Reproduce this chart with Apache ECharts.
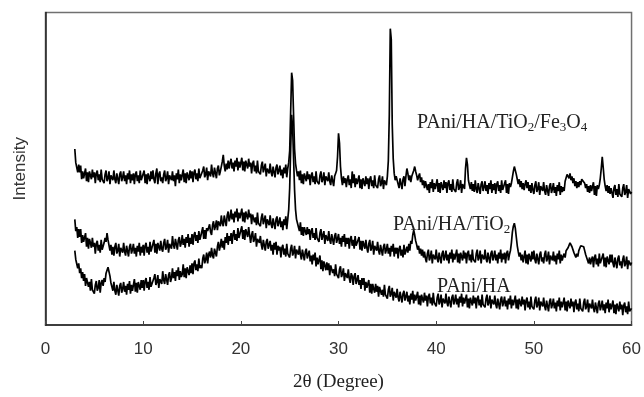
<!DOCTYPE html>
<html>
<head>
<meta charset="utf-8">
<script src="https://cdn.jsdelivr.net/npm/echarts@6/dist/echarts.min.js"></script>
<style>
  html, body { margin: 0; padding: 0; background: #fff; }
  #main { width: 644px; height: 397px; }
</style>
</head>
<body>
<div id="main"></div>
<script>
// 2θ grid: 3.0 .. 60.0 in 0.1 degree steps (571 points), one line per degree below
var thetaStart = 3.0, thetaStep = 0.1;

// intensity (arbitrary units, curves offset as in the figure)
var fe3o4 = [
  180,166,168,156,164,156,163,149,157,150,
  150,160,147,156,146,157,153,149,159,151,
  156,145,155,158,148,154,146,159,149,151,
  145,154,158,147,150,157,144,153,155,148,
  158,149,145,155,153,144,154,157,147,151,
  157,147,153,144,155,149,158,145,154,148,
  155,144,154,157,147,153,145,158,148,150,
  148,158,145,154,144,155,151,147,157,149,
  158,149,145,155,160,144,154,157,147,151,
  145,154,158,147,150,157,144,153,155,148,
  157,147,153,142,155,149,159,145,154,148,
  149,159,146,155,145,156,152,148,158,150,
  157,146,156,159,149,155,147,160,150,152,
  149,158,162,151,154,161,148,157,159,152,
  164,155,151,161,159,150,160,163,153,157,
  162,167,174,163,157,165,159,168,160,166,
  170,160,166,157,168,162,171,158,167,161,
  161,171,158,167,157,168,164,160,170,162,
  166,155,165,168,157,163,155,168,157,159,
  154,163,167,156,158,165,152,160,162,155,
  165,156,152,162,160,151,161,164,154,158,
  163,153,159,150,161,155,164,151,160,166,
  178,218,258,250,214,180,165,158,152,157,
  148,158,145,154,144,155,151,147,157,149,
  154,143,153,156,146,152,144,157,147,149,
  144,153,157,146,149,156,143,152,154,147,
  156,147,143,153,151,142,152,155,158,172,
  196,186,162,150,143,152,145,150,141,149,
  153,143,149,140,157,145,154,141,150,144,
  143,153,140,149,139,150,146,142,152,144,
  150,139,149,152,142,148,140,153,143,145,
  140,149,153,142,145,152,139,148,150,143,
  152,168,215,303,292,205,170,155,148,152,
  153,144,140,150,148,139,149,152,142,152,
  160,155,148,153,146,152,154,158,162,157,
  153,148,152,155,146,151,143,148,140,147,
  148,138,144,135,146,140,149,136,145,139,
  139,149,136,145,135,146,142,138,148,140,
  146,135,145,148,138,144,136,149,139,141,
  136,145,149,138,141,148,135,144,146,139,
  160,171,164,148,143,139,146,137,144,136,
  148,139,135,145,143,134,144,147,137,141,
  147,137,143,134,145,139,148,135,144,138,
  145,134,144,147,137,143,135,148,138,140,
  138,148,135,144,134,145,141,145,151,157,
  162,160,154,149,144,149,141,147,139,145,
  138,144,148,140,146,137,143,135,145,138,
  134,143,147,136,139,146,133,142,144,137,
  146,137,133,143,141,132,142,145,135,139,
  145,135,141,132,143,137,146,133,142,136,
  141,137,147,149,154,156,150,155,148,152,
  145,150,142,147,140,146,141,147,143,149,
  151,147,145,140,144,136,142,135,143,137,
  136,146,133,142,132,143,139,143,150,160,
  172,161,149,142,137,143,135,142,134,140,
  141,130,140,143,133,139,131,144,134,136,
  131,140,144,133,136,143,130,139,141,134,
  136
];

var tio2 = [
  108,96,100,89,98,90,98,84,92,85,
  84,94,80,89,78,88,84,79,89,80,
  84,73,83,86,76,82,74,87,77,79,
  84,89,85,94,87,86,76,82,72,80,
  71,80,84,73,76,83,70,79,81,74,
  84,75,71,81,79,70,80,83,73,77,
  83,73,79,70,81,75,84,71,80,74,
  82,71,81,84,74,80,72,85,75,77,
  77,87,74,83,73,84,80,76,86,78,
  75,84,88,77,80,87,74,83,85,78,
  91,82,78,88,86,77,87,90,80,84,
  92,82,88,79,90,84,93,80,89,83,
  93,82,92,95,86,92,84,96,87,91,
  90,100,88,97,88,99,96,94,103,95,
  92,102,106,97,101,107,97,106,108,101,
  112,104,101,112,110,101,112,116,106,110,
  118,108,114,105,116,110,119,106,115,109,
  109,119,106,115,105,116,112,108,118,110,
  114,103,113,115,105,110,102,115,104,106,
  101,110,114,103,105,112,99,108,110,102,
  112,103,99,109,107,98,108,111,101,105,
  110,100,106,97,108,102,111,98,108,118,
  140,180,215,202,170,138,118,108,104,100,
  96,105,92,100,91,100,96,92,100,93,
  98,87,96,99,89,94,87,99,89,91,
  85,94,98,87,89,96,83,92,93,86,
  96,87,83,93,91,82,91,94,84,88,
  93,83,89,80,91,85,93,80,89,83,
  89,78,88,91,81,87,78,91,81,83,
  80,90,77,86,76,86,82,78,87,79,
  74,83,87,76,79,86,72,81,83,76,
  85,76,72,82,80,71,80,83,73,77,
  83,73,79,70,81,75,83,70,79,73,
  79,68,78,81,71,77,69,82,72,74,
  80,74,83,76,86,83,92,97,92,86,
  82,77,81,73,78,71,77,69,75,68,
  64,73,77,66,69,76,63,72,74,67,
  77,68,64,74,72,63,73,76,66,70,
  76,66,72,63,74,68,77,64,73,67,
  67,77,64,73,63,74,70,66,76,68,
  74,63,73,76,66,72,64,77,67,69,
  64,73,77,66,69,76,63,72,74,67,
  77,68,64,74,72,63,73,76,66,70,
  76,66,72,63,74,68,77,64,73,67,
  74,63,73,76,66,72,76,84,95,101,
  104,99,90,81,75,70,74,66,72,64,
  66,76,63,72,62,73,69,65,75,67,
  76,67,63,73,71,62,72,75,65,69,
  63,72,76,65,68,75,62,71,73,66,
  75,65,71,62,73,67,76,63,72,66,
  70,73,69,76,74,79,79,84,82,80,
  79,74,74,69,73,70,76,78,81,83,
  83,80,76,72,69,70,63,69,62,67,
  70,59,69,72,62,68,60,73,63,65,
  63,73,60,69,59,70,66,62,72,64,
  72,63,59,69,67,58,68,71,61,65,
  58,67,71,60,63,70,57,66,68,61,
  64
];

var ha = [
  76,67,68,58,63,53,58,48,54,45,
  52,40,48,50,39,44,35,47,36,38,
  32,41,45,35,38,46,33,43,46,40,
  48,44,53,52,59,60,50,43,43,35,
  44,35,31,41,39,30,40,43,33,37,
  44,34,40,31,42,36,45,32,41,35,
  37,47,34,43,33,44,40,36,46,38,
  46,35,45,48,38,44,36,49,39,41,
  39,48,52,41,44,51,38,47,49,42,
  55,46,42,52,50,41,51,54,44,48,
  58,48,54,45,56,50,59,46,55,49,
  52,62,49,58,48,59,55,51,61,53,
  63,52,63,66,56,62,55,68,58,61,
  58,68,72,63,67,74,63,72,75,69,
  79,71,68,78,77,70,80,85,76,81,
  88,79,86,77,90,84,94,82,91,86,
  94,83,93,97,87,93,86,99,89,91,
  91,101,88,97,87,98,94,90,100,92,
  84,92,96,85,88,94,80,88,90,84,
  91,82,77,87,85,76,85,88,78,82,
  86,76,82,72,84,77,85,72,81,76,
  80,69,79,82,72,78,70,83,73,75,
  69,78,82,71,74,81,68,77,79,72,
  81,72,67,77,75,66,75,78,68,72,
  76,65,71,62,72,66,74,60,69,62,
  61,71,57,66,55,65,61,56,64,56,
  63,51,61,63,53,57,50,62,52,54,
  48,57,60,49,52,58,45,53,55,48,
  57,48,43,53,50,41,50,53,42,46,
  51,41,46,37,48,41,48,35,44,38,
  37,46,33,42,32,42,37,33,42,34,
  40,29,39,41,31,36,29,41,31,33,
  27,36,40,29,32,38,25,34,36,28,
  37,28,24,34,32,23,32,35,25,29,
  34,24,30,21,32,26,35,22,31,25,
  24,34,21,30,20,31,27,23,33,25,
  30,19,29,32,22,28,20,33,23,25,
  19,28,32,21,24,31,18,27,29,22,
  32,23,19,29,27,18,28,31,21,25,
  31,21,27,18,29,23,32,19,28,22,
  21,31,18,27,17,28,24,20,30,22,
  28,17,27,30,20,26,18,31,21,23,
  18,27,31,20,23,30,17,26,28,21,
  30,21,17,27,25,16,26,29,19,23,
  29,19,25,16,27,21,30,17,26,20,
  20,30,17,26,16,27,23,19,29,21,
  26,15,25,28,18,24,16,29,19,21,
  16,25,29,18,21,28,15,24,26,19,
  28,19,15,25,23,14,24,27,17,21,
  27,17,23,14,25,19,28,15,24,18,
  18,28,15,24,14,25,21,17,27,19,
  24,13,23,26,16,22,14,27,17,19,
  14,23,27,16,19,26,13,22,24,17,
  26,17,13,23,21,12,22,25,15,19,
  25,15,21,12,23,17,26,13,22,16,
  15,25,12,21,11,22,18,14,24,16,
  21,10,20,23,13,19,11,24,14,16,
  17
];

var xTicks = [0, 10, 20, 30, 40, 50, 60];

function pairs(vals) {
  return vals.map(function (v, i) {
    return [+(thetaStart + i * thetaStep).toFixed(1), v];
  });
}

var chart = echarts.init(document.getElementById('main'));

var lineStyle = { color: '#000', width: 1.7 };
var serif = '"Liberation Serif", "Times New Roman", serif';
var sans = '"Liberation Sans", Arial, sans-serif';
var labelRich = {
  a: { fontFamily: serif, fontSize: 20, lineHeight: 22, fill: '#222' },
  s: { fontFamily: serif, fontSize: 13, lineHeight: 13, verticalAlign: 'bottom', fill: '#222' }
};

chart.setOption({
  animation: false,
  grid: {
    left: 45.5, right: 10.5, top: 12.5, bottom: 65,
    show: true, borderColor: '#707070', borderWidth: 1.5
  },
  xAxis: {
    type: 'value',
    min: xTicks[0], max: xTicks[xTicks.length - 1], interval: 10,
    name: '2θ (Degree)',
    nameLocation: 'middle',
    nameGap: 48,
    nameTextStyle: { fontFamily: serif, fontSize: 19, color: '#222' },
    axisLine: { lineStyle: { color: '#222', width: 1.5 } },
    axisTick: { inside: true, length: 4, lineStyle: { color: '#444' } },
    axisLabel: { fontFamily: sans, fontSize: 17, color: '#333', margin: 16 },
    splitLine: { show: false }
  },
  yAxis: {
    type: 'value',
    min: 0, max: 319.5,
    name: 'Intensity',
    nameLocation: 'middle',
    nameGap: 17,
    nameTextStyle: { fontFamily: sans, fontSize: 17, color: '#333' },
    axisLine: { show: true, lineStyle: { color: '#222', width: 1.5 } },
    axisTick: { show: false },
    axisLabel: { show: false },
    splitLine: { show: false }
  },
  series: [
    { name: 'PAni/HA/TiO2/Fe3O4', type: 'line', data: pairs(fe3o4), symbol: 'none', lineStyle: lineStyle },
    { name: 'PAni/HA/TiO2', type: 'line', data: pairs(tio2), symbol: 'none', lineStyle: lineStyle },
    { name: 'PAni/HA', type: 'line', data: pairs(ha), symbol: 'none', lineStyle: lineStyle }
  ],
  graphic: [
    {
      type: 'text', left: 417, top: 113,
      style: { text: '{a|PAni/HA/TiO}{s|2}{a|/Fe}{s|3}{a|O}{s|4}', rich: labelRich }
    },
    {
      type: 'text', left: 393, top: 215,
      style: { text: '{a|PAni/HA/TiO}{s|2}', rich: labelRich }
    },
    {
      type: 'text', left: 437, top: 277,
      style: { text: '{a|PAni/HA}', rich: labelRich }
    }
  ]
});
</script>
</body>
</html>
